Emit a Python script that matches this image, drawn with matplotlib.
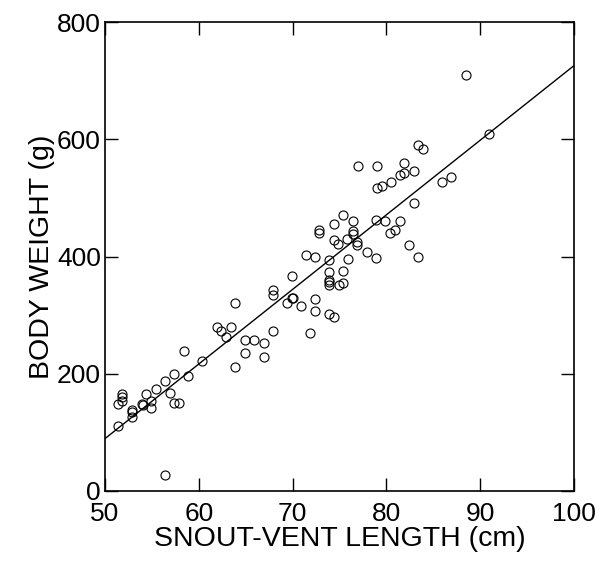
import matplotlib
matplotlib.use("Agg")
import matplotlib.pyplot as plt

plt.rcParams['font.family'] = ['Liberation Sans', 'DejaVu Sans']

# snout-vent length (cm) and body weight (g)
svl = [51.4, 51.4, 51.8, 51.8, 51.8, 52.9, 52.9, 52.9, 53.9, 54.0,
       54.4, 54.9, 54.9, 55.4, 56.4, 56.4, 56.9, 57.4, 57.4, 57.9,
       58.4, 58.9, 60.3, 61.9, 62.4, 62.9, 63.4, 63.9, 63.9, 64.9,
       64.9, 65.9, 66.9, 66.9, 67.9, 67.9, 67.9, 69.4, 69.9, 70.0,
       69.9, 70.9, 71.4, 71.9, 72.4, 72.4, 72.4, 72.8, 72.8, 73.9,
       73.9, 73.9, 73.9, 73.9, 73.9, 74.4, 74.4, 74.4, 74.8, 74.9,
       75.4, 75.4, 75.4, 75.8, 75.9, 76.4, 76.4, 76.4, 76.9, 76.9,
       77.0, 77.9, 78.9, 78.9, 79.0, 79.0, 79.5, 79.9, 80.4, 80.5,
       80.9, 81.4, 81.4, 81.9, 81.9, 82.4, 82.9, 82.9, 83.4, 83.4,
       83.9, 85.9, 86.9, 88.5, 90.9]
weight = [148, 110, 165, 160, 153, 138, 134, 126, 148, 146,
          165, 154, 142, 174, 188, 27, 167, 199, 150, 150,
          239, 196, 221, 280, 273, 263, 280, 321, 212, 257,
          236, 257, 252, 228, 343, 334, 273, 321, 367, 329,
          330, 315, 402, 270, 399, 327, 307, 446, 441, 394,
          374, 360, 356, 351, 302, 456, 428, 297, 421, 351,
          471, 376, 354, 430, 395, 443, 438, 460, 425, 419,
          555, 407, 462, 397, 555, 517, 520, 460, 441, 528,
          445, 539, 461, 560, 542, 420, 546, 492, 591, 400,
          583, 528, 535, 710, 609]

# regression line end points
fit_x = [50, 100]
fit_y = [89, 726]

fig = plt.figure(figsize=(6.01, 5.61), dpi=100)
ax = fig.add_axes([0.1747, 0.1253, 0.955 - 0.1747, 0.9602 - 0.1253])

ax.plot(svl, weight, "o", markersize=6.5, markerfacecolor="none",
        markeredgecolor="black", markeredgewidth=0.8, linestyle="none")
ax.plot(fit_x, fit_y, "-", color="black", linewidth=1.0)

ax.set_xlim(50, 100)
ax.set_ylim(0, 800)
ax.set_xticks([50, 60, 70, 80, 90, 100])
ax.set_yticks([0, 200, 400, 600, 800])

ax.tick_params(direction="in", length=9.5, width=1.0, top=True, right=True,
               labelsize=19)
ax.tick_params(axis="x", pad=8)
ax.tick_params(axis="y", pad=3)
for s in ax.spines.values():
    s.set_linewidth(1.2)

ax.set_xlabel("SNOUT-VENT LENGTH (cm)", fontsize=20.5, labelpad=0)
ax.set_ylabel("BODY WEIGHT (g)", fontsize=20.5, labelpad=1)

fig.savefig("out.png", dpi=100)
